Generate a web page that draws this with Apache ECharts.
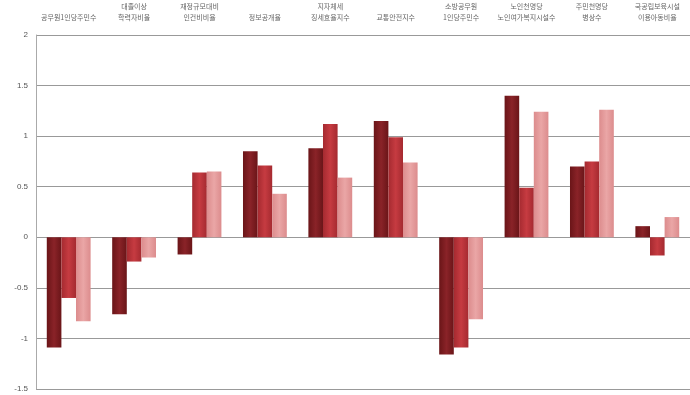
<!DOCTYPE html>
<html><head><meta charset="utf-8">
<script src="https://cdn.jsdelivr.net/npm/echarts@6/dist/echarts.min.js"></script>
<style>html,body{margin:0;padding:0;background:#fff}#c{width:690px;height:395px}</style>
</head><body><div id="c"></div>
<script>
const categories = ['공무원1인당주민수','대졸이상\n학력자비율','재정규모대비\n인건비비율','정보공개율','지자체세\n징세효율지수','교통안전지수','소방공무원\n1인당주민수','노인천명당\n노인여가복지시설수','주민천명당\n병상수','국공립보육시설\n이용아동비율'];
const seriesA = [-1.09, -0.76, -0.17, 0.85, 0.88, 1.15, -1.16, 1.40, 0.70, 0.11];
const seriesB = [-0.60, -0.24, 0.64, 0.71, 1.12, 0.99, -1.09, 0.49, 0.75, -0.18];
const seriesC = [-0.83, -0.20, 0.65, 0.43, 0.59, 0.74, -0.81, 1.24, 1.26, 0.20];
const yTicks = [-1.5, -1, -0.5, 0, 0.5, 1, 1.5, 2];

function grad(c1, c2) {
  return new echarts.graphic.LinearGradient(0, 0, 1, 0, [{offset: 0, color: c1}, {offset: 0.5, color: c2}, {offset: 1, color: c1}]);
}
const chart = echarts.init(document.getElementById('c'), null, {renderer: 'canvas'});
chart.setOption({
  animation: false,
  grid: {left: 36, right: 0, top: 35, bottom: 6},
  xAxis: {
    type: 'category', data: categories, position: 'top',
    axisLine: {show: false}, axisTick: {show: false},
    axisLabel: {interval: 0, fontSize: 7, color: '#666', lineHeight: 11, margin: 12, fontFamily: 'Noto Sans CJK KR'}
  },
  yAxis: {
    type: 'value', min: yTicks[0], max: yTicks[yTicks.length - 1], interval: 0.5,
    axisLine: {show: true, lineStyle: {color: '#aaa'}}, axisTick: {show: false},
    axisLabel: {fontSize: 8, color: '#555', margin: 8, formatter: v => String(v)},
    splitLine: {lineStyle: {color: '#999', width: 1}}
  },
  series: [
    {type: 'bar', data: seriesA, barGap: '0%', barCategoryGap: '33%', itemStyle: {color: grad('#6a1518', '#8a2328')}},
    {type: 'bar', data: seriesB, itemStyle: {color: grad('#a52a30', '#c63b41')}},
    {type: 'bar', data: seriesC, itemStyle: {color: grad('#dc8c8d', '#eaa6a6')}}
  ]
});
</script></body></html>
